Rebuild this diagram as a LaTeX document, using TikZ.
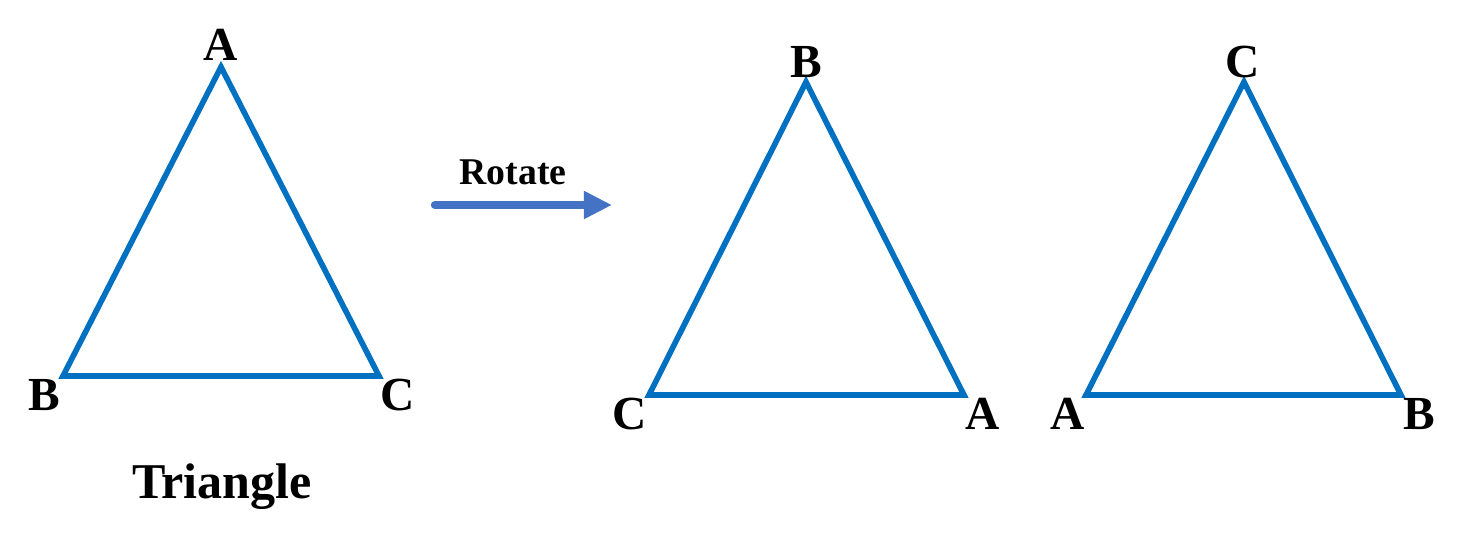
\documentclass[tikz,border=0pt]{standalone}
\usepackage{fontspec}
\setmainfont{Liberation Serif}
\usetikzlibrary{arrows.meta}
\definecolor{triblue}{RGB}{0,112,192}
\definecolor{arrowblue}{RGB}{68,114,196}
\tikzset{
  tri/.style={draw=triblue, line width=3.2pt, line join=miter},
  vlabel/.style={font=\fontsize{27}{27}\selectfont\bfseries, inner sep=0pt}
}
\begin{document}
\begin{tikzpicture}[x=0.02cm, y=-0.02cm]
\useasboundingbox (0,0) rectangle (1465,538);
% original triangle
\coordinate (a1) at (221,67);
\coordinate (b1) at (63,376);
\coordinate (c1) at (379,376);
\draw[tri] (a1) -- (b1) -- (c1) -- cycle;
\node[vlabel] (la1) at (221,45) {A};
\node[vlabel] (lb1) at (44,395) {B};
\node[vlabel] (lc1) at (398,395) {C};
\node[font=\fontsize{28.5}{28.5}\selectfont\bfseries, inner sep=0pt] (name) at (222,487) {Triangle};
% rotation arrow
\coordinate (s) at (435,205);
\coordinate (e) at (612,205);
\draw[arrowblue, line width=4.8pt, line cap=round, -{Triangle[length=16pt, width=15pt]}] (s) -- (e);
\node[font=\fontsize{21.5}{21.5}\selectfont\bfseries, inner sep=0pt] (rot) at (513,172) {Rotate};
% first rotation
\coordinate (b2) at (806,82);
\coordinate (c2) at (649,395);
\coordinate (a2) at (964,395);
\draw[tri] (b2) -- (c2) -- (a2) -- cycle;
\node[vlabel] (lb2) at (806,62) {B};
\node[vlabel] (lc2) at (630,414) {C};
\node[vlabel] (la2) at (983,414) {A};
% second rotation
\coordinate (c3) at (1244,82);
\coordinate (a3) at (1086,395);
\coordinate (b3) at (1401,395);
\draw[tri] (c3) -- (a3) -- (b3) -- cycle;
\node[vlabel] (lc3) at (1243,62) {C};
\node[vlabel] (la3) at (1068,414) {A};
\node[vlabel] (lb3) at (1419,414) {B};
\end{tikzpicture}
\end{document}
